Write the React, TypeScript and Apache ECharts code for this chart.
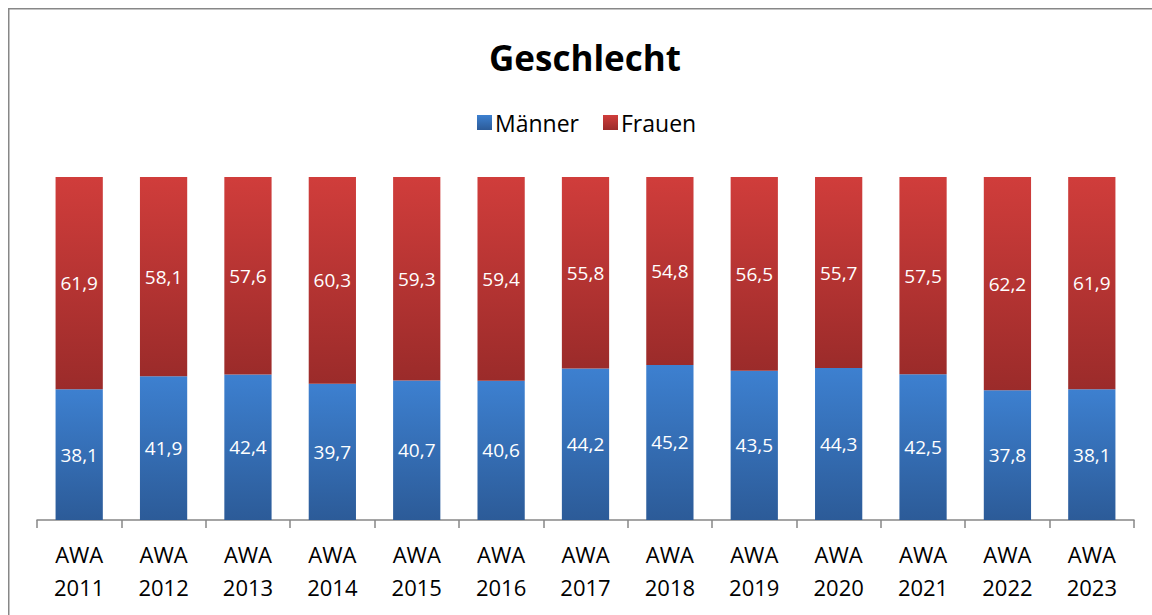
import React, { useEffect, useRef } from "react";
import * as echarts from "echarts";

const categories = ["AWA\n2011", "AWA\n2012", "AWA\n2013", "AWA\n2014", "AWA\n2015", "AWA\n2016", "AWA\n2017", "AWA\n2018", "AWA\n2019", "AWA\n2020", "AWA\n2021", "AWA\n2022", "AWA\n2023"];
const maenner = [38.1, 41.9, 42.4, 39.7, 40.7, 40.6, 44.2, 45.2, 43.5, 44.3, 42.5, 37.8, 38.1];
const frauen = [61.9, 58.1, 57.6, 60.3, 59.3, 59.4, 55.8, 54.8, 56.5, 55.7, 57.5, 62.2, 61.9];

const FONT = "'Open Sans', 'Noto Sans', sans-serif";

const grad = (top: string, bottom: string) =>
  new echarts.graphic.LinearGradient(0, 0, 0, 1, [
    { offset: 0, color: top },
    { offset: 1, color: bottom },
  ]);

const fmt = (p: any) => String(p.value).replace(".", ",");

export default function App() {
  const ref = useRef<HTMLDivElement>(null);
  useEffect(() => {
    document.body.style.margin = "0";
    document.body.style.overflow = "hidden";
    document.documentElement.style.overflow = "hidden";
    const chart = echarts.init(ref.current!, null, { renderer: "svg" });
    chart.setOption({
      animation: false,
      backgroundColor: "#ffffff",
      textStyle: { fontFamily: FONT },
      title: {
        text: "Geschlecht",
        left: 489,
        top: 40,
        padding: 0,
        textStyle: { fontFamily: FONT, fontSize: 35, fontWeight: "bold", color: "#000" },
      },
      legend: {
        top: 111,
        left: 477,
        padding: 0,
        itemWidth: 15,
        itemHeight: 15,
        itemGap: 24,
        icon: "rect",
        textStyle: { fontFamily: FONT, fontSize: 23, color: "#000", padding: [0, 0, 0, -2] },
        data: ["Männer", "Frauen"],
      },
      graphic: [
        {
          type: "polyline",
          shape: { points: [[8.75, 700], [8.75, 8.75], [1300, 8.75]] },
          style: { fill: "none", stroke: "#878787", lineWidth: 1.5 },
          silent: true,
        },
      ],
      grid: { left: 37, right: 18, top: 177, bottom: 95, containLabel: false },
      xAxis: {
        type: "category",
        data: categories,
        axisLine: { show: true, lineStyle: { color: "#878787", width: 1.5 } },
        axisTick: { show: true, length: 8, interval: 0, lineStyle: { color: "#878787", width: 1.5 } },
        axisLabel: {
          fontFamily: FONT,
          fontSize: 22,
          color: "#000",
          lineHeight: 33,
          margin: 17,
          interval: 0,
        },
      },
      yAxis: { type: "value", min: 0, max: 100, show: false, splitLine: { show: false } },
      series: [
        {
          name: "Männer",
          type: "bar",
          stack: "total",
          data: maenner,
          barCategoryGap: "44%",
          itemStyle: { color: grad("#3d80d0", "#2c5b98") },
          label: { show: true, position: "inside", color: "#fff", fontSize: 19, fontFamily: FONT, formatter: fmt },
        },
        {
          name: "Frauen",
          type: "bar",
          stack: "total",
          data: frauen,
          barCategoryGap: "44%",
          itemStyle: { color: grad("#d03d3b", "#9b2b2a") },
          label: { show: true, position: "inside", color: "#fff", fontSize: 19, fontFamily: FONT, formatter: fmt },
        },
      ],
    });
    return () => chart.dispose();
  }, []);
  return <div ref={ref} style={{ width: 1152, height: 615 }} />;
}
